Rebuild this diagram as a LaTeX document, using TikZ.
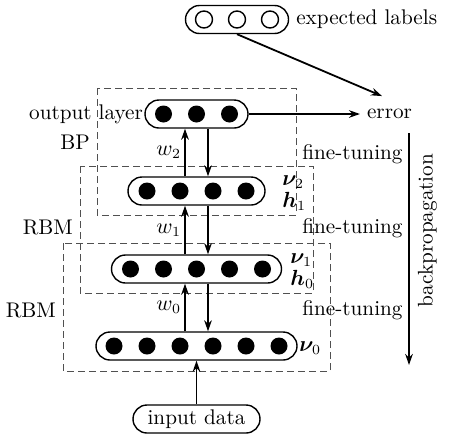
\documentclass[tikz,border=0pt]{standalone}
\usepackage{amsmath,amssymb,bm}
\usepackage{tikz}
\usetikzlibrary{arrows.meta,positioning,shapes.misc,calc}
\definecolor{boxgray}{RGB}{80,80,80}

\begin{document}
\begin{tikzpicture}[x=0.5pt, y=-0.5pt, font=\fontsize{10.6}{12.7}\selectfont,
  layer/.style={draw, rounded rectangle, minimum height=14pt, inner sep=0pt, line width=0.7pt},
  unit/.style={circle, fill=black, minimum size=8.5pt, inner sep=0pt},
  target/.style={circle, draw, minimum size=8.5pt, inner sep=0pt, line width=0.7pt},
  arr/.style={-{Stealth[length=5.5pt,width=3.8pt]}, line width=0.9pt},
  dashbox/.style={draw=boxgray, dash pattern=on 3.5pt off 2pt, line width=0.5pt}]
  \useasboundingbox (0,0) rectangle (449,434);

  % dashed blocks: BP, RBM, RBM
  \draw[dashbox] (97,88) rectangle (296,215);
  \draw[dashbox] (80,166) rectangle (313,293);
  \draw[dashbox] (63,243) rectangle (330,371);
  \node[anchor=east] (bp) at (97,142) {BP};
  \node[anchor=east] (rbm1) at (80,227) {RBM};
  \node[anchor=east] (rbm0) at (63,310) {RBM};

  % --- expected labels ---
  \node[layer, minimum width=51.5pt] (E) at (237,19.5) {};
  \foreach \i in {1,2,3}
    \node[target] (t\i) at ({237+(\i-2)*33},19.5) {};
  \node[right=0pt of E] (elab) {expected labels};

  % --- layers ---
  \node[layer, minimum width=51.5pt] (L3) at (196.5,114) {};
  \foreach \i in {1,2,3}
    \node[unit] (o\i) at ({196.5+(\i-2)*33},114) {};
  \node[layer, minimum width=68.5pt] (L2) at (196.5,191) {};
  \foreach \i in {1,...,4}
    \node[unit] (h\i) at ({196.5+(\i-2.5)*33},191) {};
  \node[layer, minimum width=85pt] (L1) at (196.5,269) {};
  \foreach \i in {1,...,5}
    \node[unit] (g\i) at ({196.5+(\i-3)*33},269) {};
  \node[layer, minimum width=100.5pt] (L0) at (196.5,346) {};
  \foreach \i in {1,...,6}
    \node[unit] (v\i) at ({196.5+(\i-3.5)*33},346) {};
  \node[layer, minimum width=63.5pt] (in) at (196.5,419) {input data};

  \node[anchor=east, inner sep=0.5pt] (olab) at (L3.west) {output layer};
  \node[anchor=west, align=left, inner sep=0pt] (lab2) at (282,193) {$\bm{\nu}_2$\\[-1.5pt]$\bm{h}_1$};
  \node[anchor=west, align=left, inner sep=0pt] (lab1) at (290,271) {$\bm{\nu}_1$\\[-1.5pt]$\bm{h}_0$};
  \node[anchor=west, inner sep=0pt] (lab0) at (299,348) {$\bm{\nu}_0$};

  % error
  \node (err) at (389.5,114) {error};
  \draw[arr] (L3.east) -- (err.west);
  \draw[arr] (E.south) -- ([xshift=-3.75pt,yshift=3pt]err.north);

  % up / down between layers
  \draw[arr] ([xshift=-5.75pt]L2.north) -- ([xshift=-5.75pt]L3.south) node[midway, left, inner sep=1.5pt] {$w_2$};
  \draw[arr] ([xshift=5.75pt]L3.south) -- ([xshift=5.75pt]L2.north);
  \draw[arr] ([xshift=-5.75pt]L1.north) -- ([xshift=-5.75pt]L2.south) node[midway, left, inner sep=1.5pt] {$w_1$};
  \draw[arr] ([xshift=5.75pt]L2.south) -- ([xshift=5.75pt]L1.north);
  \draw[arr] ([xshift=-5.75pt]L0.north) -- ([xshift=-5.75pt]L1.south) node[midway, left, inner sep=1.5pt] {$w_0$};
  \draw[arr] ([xshift=5.75pt]L1.south) -- ([xshift=5.75pt]L0.north);
  \draw[arr] (in.north) -- (L0.south);

  % fine-tuning labels
  \node[anchor=west, inner sep=0pt] (ft3) at (302,154) {fine-tuning};
  \node[anchor=west, inner sep=0pt] (ft2) at (302,228) {fine-tuning};
  \node[anchor=west, inner sep=0pt] (ft1) at (302,310) {fine-tuning};

  % backpropagation
  \coordinate (bptop) at (409,133);
  \coordinate (bpbot) at (409,365);
  \draw[arr] (bptop) -- (bpbot) node[pos=0.42, rotate=90, anchor=north, inner sep=4pt] (bplab) {backpropagation};
\end{tikzpicture}
\end{document}
